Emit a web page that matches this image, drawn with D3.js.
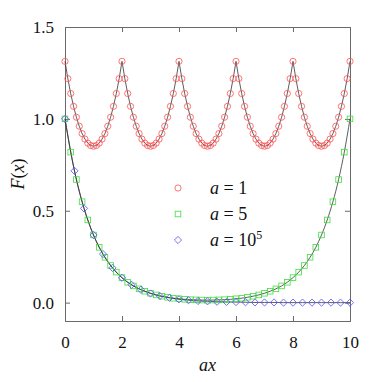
<!DOCTYPE html>
<html>
<head>
<meta charset="utf-8">
<script src="https://cdn.jsdelivr.net/npm/d3@7"></script>
</head>
<body style="margin:0">
<svg id="plot" width="378" height="382"></svg>
<script>
// ax values for each curve
const xRed = [
  0.0,0.1,0.2,0.3,0.4,0.5,0.6,0.7,0.8,0.9,1.0,1.1,1.2,1.3,1.4,1.5,1.6,1.7,1.8,1.9,
  2.0,2.1,2.2,2.3,2.4,2.5,2.6,2.7,2.8,2.9,3.0,3.1,3.2,3.3,3.4,3.5,3.6,3.7,3.8,3.9,
  4.0,4.1,4.2,4.3,4.4,4.5,4.6,4.7,4.8,4.9,5.0,5.1,5.2,5.3,5.4,5.5,5.6,5.7,5.8,5.9,
  6.0,6.1,6.2,6.3,6.4,6.5,6.6,6.7,6.8,6.9,7.0,7.1,7.2,7.3,7.4,7.5,7.6,7.7,7.8,7.9,
  8.0,8.1,8.2,8.3,8.4,8.5,8.6,8.7,8.8,8.9,9.0,9.1,9.2,9.3,9.4,9.5,9.6,9.7,9.8,9.9,
  10.0
];
// a = 1
const yRed = [
  1.313,1.219,1.138,1.068,1.009,0.960,0.920,0.890,0.868,0.855,0.851,0.855,0.868,0.890,0.920,0.960,1.009,1.068,1.138,1.219,
  1.313,1.219,1.138,1.068,1.009,0.960,0.920,0.890,0.868,0.855,0.851,0.855,0.868,0.890,0.920,0.960,1.009,1.068,1.138,1.219,
  1.313,1.219,1.138,1.068,1.009,0.960,0.920,0.890,0.868,0.855,0.851,0.855,0.868,0.890,0.920,0.960,1.009,1.068,1.138,1.219,
  1.313,1.219,1.138,1.068,1.009,0.960,0.920,0.890,0.868,0.855,0.851,0.855,0.868,0.890,0.920,0.960,1.009,1.068,1.138,1.219,
  1.313,1.219,1.138,1.068,1.009,0.960,0.920,0.890,0.868,0.855,0.851,0.855,0.868,0.890,0.920,0.960,1.009,1.068,1.138,1.219,
  1.313
];

const xGreen = [
  0.0,0.2,0.4,0.6,0.8,1.0,1.2,1.4,1.6,1.8,2.0,2.2,2.4,2.6,2.8,3.0,3.2,3.4,3.6,3.8,
  4.0,4.2,4.4,4.6,4.8,5.0,5.2,5.4,5.6,5.8,6.0,6.2,6.4,6.6,6.8,7.0,7.2,7.4,7.6,7.8,
  8.0,8.2,8.4,8.6,8.8,9.0,9.2,9.4,9.6,9.8,10.0
];
// a = 5
const yGreen = [
  1.000,0.819,0.670,0.549,0.450,0.368,0.301,0.247,0.202,0.166,0.136,0.111,0.091,0.075,0.062,0.051,0.042,0.035,0.029,0.024,
  0.021,0.018,0.016,0.015,0.014,0.0135,0.014,0.015,0.016,0.018,0.021,0.024,0.029,0.035,0.042,0.051,0.062,0.075,0.091,0.111,
  0.136,0.166,0.202,0.247,0.301,0.368,0.450,0.549,0.670,0.819,1.000
];

const xBlue = [
  0.000,0.333,0.667,1.000,1.333,1.667,2.000,2.333,2.667,3.000,3.333,3.667,4.000,4.333,4.667,5.000,
  5.333,5.667,6.000,6.333,6.667,7.000,7.333,7.667,8.000,8.333,8.667,9.000,9.333,9.667,10.000
];
// a = 10^5
const yBlue = [
  1.000,0.717,0.513,0.368,0.264,0.189,0.135,0.097,0.070,0.050,0.036,0.026,0.018,0.013,0.009,0.007,
  0.005,0.004,0.003,0.002,0.001,0.001,0.001,0.000,0.000,0.000,0.000,0.000,0.000,0.000,0.000
];

const xTicks = [0, 2, 4, 6, 8, 10];
const yTicks = [0.0, 0.5, 1.0, 1.5];
const legendLabels = [["1", ""], ["5", ""], ["10", "5"]];

const W = 378, H = 382;
const M = { left: 65, right: 28, top: 27, bottom: 61 };
const FONT = "Liberation Serif";

const svg = d3.select("#plot");

const x = d3.scaleLinear().domain([0, 10]).range([M.left, W - M.right]);
const y = d3.scaleLinear().domain([-0.1, 1.5]).range([H - M.bottom, M.top]);

const series = [
  { xs: xRed,   ys: yRed,   color: "#ff5050", shape: "circle",  curve: d3.curveLinear },
  { xs: xGreen, ys: yGreen, color: "#40dd40", shape: "square",  curve: d3.curveMonotoneX },
  { xs: xBlue,  ys: yBlue,  color: "#5050ff", shape: "diamond", curve: d3.curveMonotoneX }
];

function marker(g, shape, cx, cy) {
  if (shape === "circle") {
    g.append("circle").attr("cx", cx).attr("cy", cy).attr("r", 3.1);
  } else if (shape === "square") {
    g.append("rect").attr("x", cx - 2.8).attr("y", cy - 2.8).attr("width", 5.6).attr("height", 5.6);
  } else {
    const r = 3.6;
    g.append("path").attr("d", `M${cx},${cy - r}L${cx + r},${cy}L${cx},${cy + r}L${cx - r},${cy}Z`);
  }
}

// frame + ticks, inward on all four sides
const tk = 5;
const gx = svg.append("g").attr("transform", `translate(0,${H - M.bottom})`)
  .call(d3.axisBottom(x).tickValues(xTicks).tickSize(-tk).tickPadding(15).tickFormat(d3.format("d")));
const gxt = svg.append("g").attr("transform", `translate(0,${M.top})`)
  .call(d3.axisTop(x).tickValues(xTicks).tickSize(-tk).tickFormat(""));
const gy = svg.append("g").attr("transform", `translate(${M.left},0)`)
  .call(d3.axisLeft(y).tickValues(yTicks).tickSize(-tk).tickPadding(11).tickFormat(d3.format(".1f")));
const gyr = svg.append("g").attr("transform", `translate(${W - M.right},0)`)
  .call(d3.axisRight(y).tickValues(yTicks).tickSize(-tk).tickFormat(""));

[gx, gxt, gy, gyr].forEach(a => {
  a.attr("font-family", FONT).attr("font-size", 17);
  a.selectAll("path, line").attr("stroke", "#6a6a6a");
  a.selectAll("text").attr("font-family", FONT).attr("font-size", 17).attr("fill", "#111");
});

// curves
const plot = svg.append("g");
series.forEach(s => {
  const pts = s.xs.map((v, i) => [v, s.ys[i]]);
  plot.append("path")
    .datum(pts)
    .attr("fill", "none")
    .attr("stroke", "#333")
    .attr("stroke-width", 0.8)
    .attr("d", d3.line().x(d => x(d[0])).y(d => y(d[1])).curve(s.curve));
});

series.forEach(s => {
  const g = plot.append("g").attr("fill", "none").attr("stroke", s.color).attr("stroke-width", 0.8);
  s.xs.forEach((v, i) => marker(g, s.shape, x(v), y(s.ys[i])));
});

// legend
legendLabels.forEach((lab, i) => {
  const ly = 188 + i * 26;
  const g = svg.append("g").attr("fill", "none").attr("stroke", series[i].color).attr("stroke-width", 0.8);
  marker(g, series[i].shape, 178, ly);
  const t = svg.append("text").attr("x", 210).attr("y", ly + 6)
    .attr("font-family", FONT).attr("font-size", 18).attr("fill", "#111");
  t.append("tspan").attr("font-style", "italic").text("a");
  t.append("tspan").text(" = " + lab[0]);
  if (lab[1]) t.append("tspan").attr("dy", -7).attr("font-size", 12).text(lab[1]);
});

// axis titles
svg.append("text").attr("x", x(5)).attr("y", 371)
  .attr("text-anchor", "middle")
  .attr("font-family", FONT).attr("font-size", 18).attr("font-style", "italic")
  .attr("fill", "#111")
  .text("ax");

const yt = svg.append("text")
  .attr("transform", `translate(24,${(y(1.5) + y(-0.1)) / 2}) rotate(-90)`)
  .attr("text-anchor", "middle")
  .attr("font-family", FONT).attr("font-size", 18)
  .attr("fill", "#111");
yt.append("tspan").attr("font-style", "italic").text("F");
yt.append("tspan").text("(");
yt.append("tspan").attr("font-style", "italic").text("x");
yt.append("tspan").text(")");
</script>
</body>
</html>
